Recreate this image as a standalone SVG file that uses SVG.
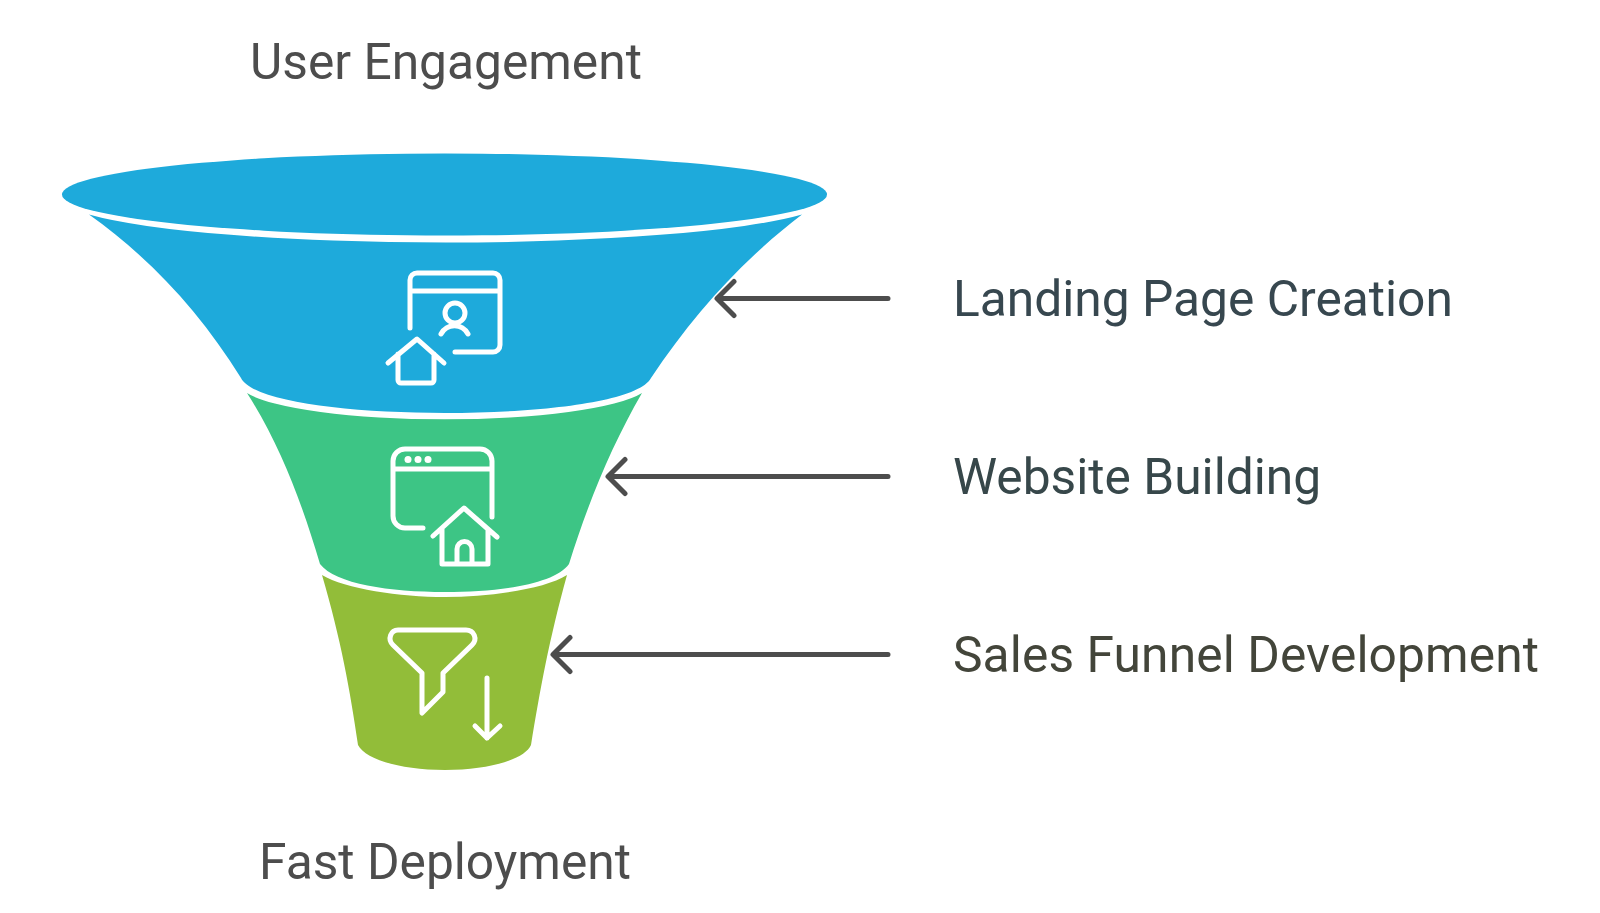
<svg xmlns="http://www.w3.org/2000/svg" width="1600" height="913" viewBox="0 0 1600 913">
<style>
text{font-family:Roboto,"Liberation Sans",sans-serif;font-size:49.700px}
.t{fill:#4d4d4d;text-anchor:middle}
.ic{fill:none;stroke:#fff;stroke-width:5;stroke-linecap:round;stroke-linejoin:round}
.ar{fill:none;stroke:#4d4d4d;stroke-width:5;stroke-linecap:round;stroke-linejoin:round}
</style>
<rect width="1600" height="913" fill="#fff"/>
<g id="top-label"><text class="t" x="446" y="79">User Engagement</text></g>
<g id="bottom-label"><text class="t" x="445" y="879">Fast Deployment</text></g>
<g id="stage-1">
<ellipse cx="444.500" cy="194.500" rx="382.500" ry="41" fill="#1eaadb"/>
<path d="M89 214.500A385 45 0 0 0 802 214.500C745 258 695 312 651 378C638 402 540 413 445 413C350 413 253 402 241 378C200 312 150 258 89 214.500Z" fill="#1eaadb"/>
<path class="ic" d="M410 328V280a7 7 0 0 1 7-7H493a7 7 0 0 1 7 7V345a7 7 0 0 1-7 7H455M410 291H500"/>
<circle class="ic" cx="455" cy="313" r="10"/>
<path class="ic" d="M441 334C447 323 462 323 468 334"/>
<path class="ic" d="M388 363L417 339L444 363M398 354V380a3 3 0 0 0 3 3H431a3 3 0 0 0 3-3V354"/>
</g>
<g id="stage-2">
<path d="M247 393A205 36 0 0 0 642 393C612 445 589 500 569 564C555 584 500 592 445 592C390 592 335 584 320 564C301 500 280 445 247 393Z" fill="#3dc585"/>
<path class="ic" d="M423 528H405a12 12 0 0 1-12-12V461a12 12 0 0 1 12-12H480a12 12 0 0 1 12 12V517M393 469H492"/>
<circle cx="408" cy="459.500" r="3.500" fill="#fff"/><circle cx="418" cy="459.500" r="3.500" fill="#fff"/><circle cx="428" cy="459.500" r="3.500" fill="#fff"/>
<path class="ic" d="M433 536L464 508L497 537M442 529V564H488V529M457 564V549a7.500 7.500 0 0 1 15 0V564"/>
</g>
<g id="stage-3">
<path d="M322 575C345 589 400 597 445 597C490 597 545 589 567 575C549 640 540 690 531 745C525 759 490 770 445 770C400 770 365 759 358 745C350 690 341 640 322 575Z" fill="#92bd39"/>
<path class="ic" d="M398 630H466C474 630 478 639 472 645L443 673V692L422 713V673L393 645C387 639 391 630 398 630Z"/>
<path class="ic" d="M487 678V738M475 726L487 738L500 726"/>
</g>
<g id="connectors">
<path class="ar" d="M888 298.500H719M734 281.500L717 298.500L734 315.500"/>
<path class="ar" d="M888 476.500H610M625 459.500L608 476.500L625 493.500"/>
<path class="ar" d="M888 654.500H555M570 637.500L553 654.500L570 671.500"/>
</g>
<g id="label-1"><text x="953" y="316" fill="#37474f">Landing Page Creation</text></g>
<g id="label-2"><text x="953" y="494" fill="#37474a">Website Building</text></g>
<g id="label-3"><text x="953" y="672" fill="#43453a" textLength="586">Sales Funnel Development</text></g>
</svg>
